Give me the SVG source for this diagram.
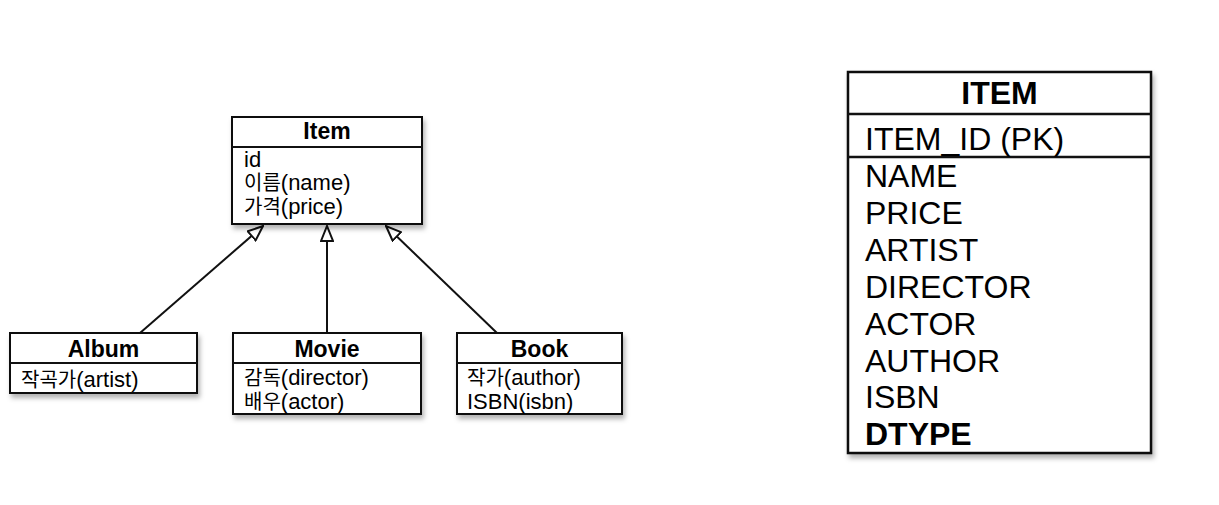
<svg xmlns="http://www.w3.org/2000/svg" width="1219" height="505" viewBox="0 0 1219 505">
<style>
text { font-family: "Liberation Sans", "Noto Sans CJK KR", sans-serif; fill: #000; }
.box { fill: #fff; stroke: #111; stroke-width: 2; filter: url(#sh); }
.div { stroke: #111; stroke-width: 2; }
.ttl { font-size: 23px; font-weight: bold; text-anchor: middle; }
.att { font-size: 22px; }
.ko { font-size: 20px; }
.tb { font-size: 32px; }
.tbh { font-size: 32px; font-weight: bold; text-anchor: middle; }
.conn { stroke: #111; stroke-width: 2; fill: none; marker-end: url(#tri); }
</style>
<defs>
<filter id="sh" x="-10%" y="-10%" width="130%" height="140%">
<feDropShadow dx="2" dy="4" stdDeviation="2.5" flood-color="#000" flood-opacity="0.3"/>
</filter>
<marker id="tri" viewBox="0 0 17 14" refX="16" refY="7" markerWidth="17" markerHeight="14" markerUnits="userSpaceOnUse" orient="auto">
<path d="M1,1 L16,7 L1,13 Z" fill="#fff" stroke="#111" stroke-width="2"/>
</marker>
</defs>
<rect width="1219" height="505" fill="#fff"/>

<g id="connectors">
<line class="conn" x1="140" y1="333" x2="263" y2="226"/>
<line class="conn" x1="327" y1="333" x2="327" y2="226"/>
<line class="conn" x1="497" y1="333" x2="386" y2="226"/>
</g>

<g id="item">
<rect class="box" x="232" y="117" width="190" height="107"/>
<line class="div" x1="232" y1="147" x2="422" y2="147"/>
<text class="ttl" x="327" y="139">Item</text>
<text class="att" x="244" y="167">id</text>
<text class="att" x="244" y="190"><tspan class="ko">이름</tspan>(name)</text>
<text class="att" x="244" y="214"><tspan class="ko">가격</tspan>(price)</text>
</g>

<g id="album">
<rect class="box" x="10" y="333" width="187" height="60"/>
<line class="div" x1="10" y1="363" x2="197" y2="363"/>
<text class="ttl" x="103.5" y="357">Album</text>
<text class="att" x="21" y="387"><tspan class="ko">작곡가</tspan>(artist)</text>
</g>

<g id="movie">
<rect class="box" x="233" y="333" width="188" height="81"/>
<line class="div" x1="233" y1="363" x2="421" y2="363"/>
<text class="ttl" x="327" y="357">Movie</text>
<text class="att" x="244" y="385"><tspan class="ko">감독</tspan>(director)</text>
<text class="att" x="244" y="409"><tspan class="ko">배우</tspan>(actor)</text>
</g>

<g id="book">
<rect class="box" x="457" y="333" width="165" height="81"/>
<line class="div" x1="457" y1="363" x2="622" y2="363"/>
<text class="ttl" x="539.5" y="357">Book</text>
<text class="att" x="467" y="385"><tspan class="ko">작가</tspan>(author)</text>
<text class="att" x="467" y="409">ISBN(isbn)</text>
</g>

<g id="item-table">
<rect class="box" x="848" y="72" width="303" height="381" style="stroke-width:2.5"/>
<line class="div" x1="848" y1="114" x2="1151" y2="114" style="stroke-width:2.5"/>
<line class="div" x1="848" y1="157" x2="1151" y2="157" style="stroke-width:2.5"/>
<text class="tbh" x="999.5" y="104">ITEM</text>
<text class="tb" x="865" y="150">ITEM_ID (PK)</text>
<text class="tb" x="865" y="187">NAME</text>
<text class="tb" x="865" y="224">PRICE</text>
<text class="tb" x="865" y="261">ARTIST</text>
<text class="tb" x="865" y="298">DIRECTOR</text>
<text class="tb" x="865" y="335">ACTOR</text>
<text class="tb" x="865" y="372">AUTHOR</text>
<text class="tb" x="865" y="408">ISBN</text>
<text class="tb" x="865" y="445" font-weight="bold">DTYPE</text>
</g>
</svg>
